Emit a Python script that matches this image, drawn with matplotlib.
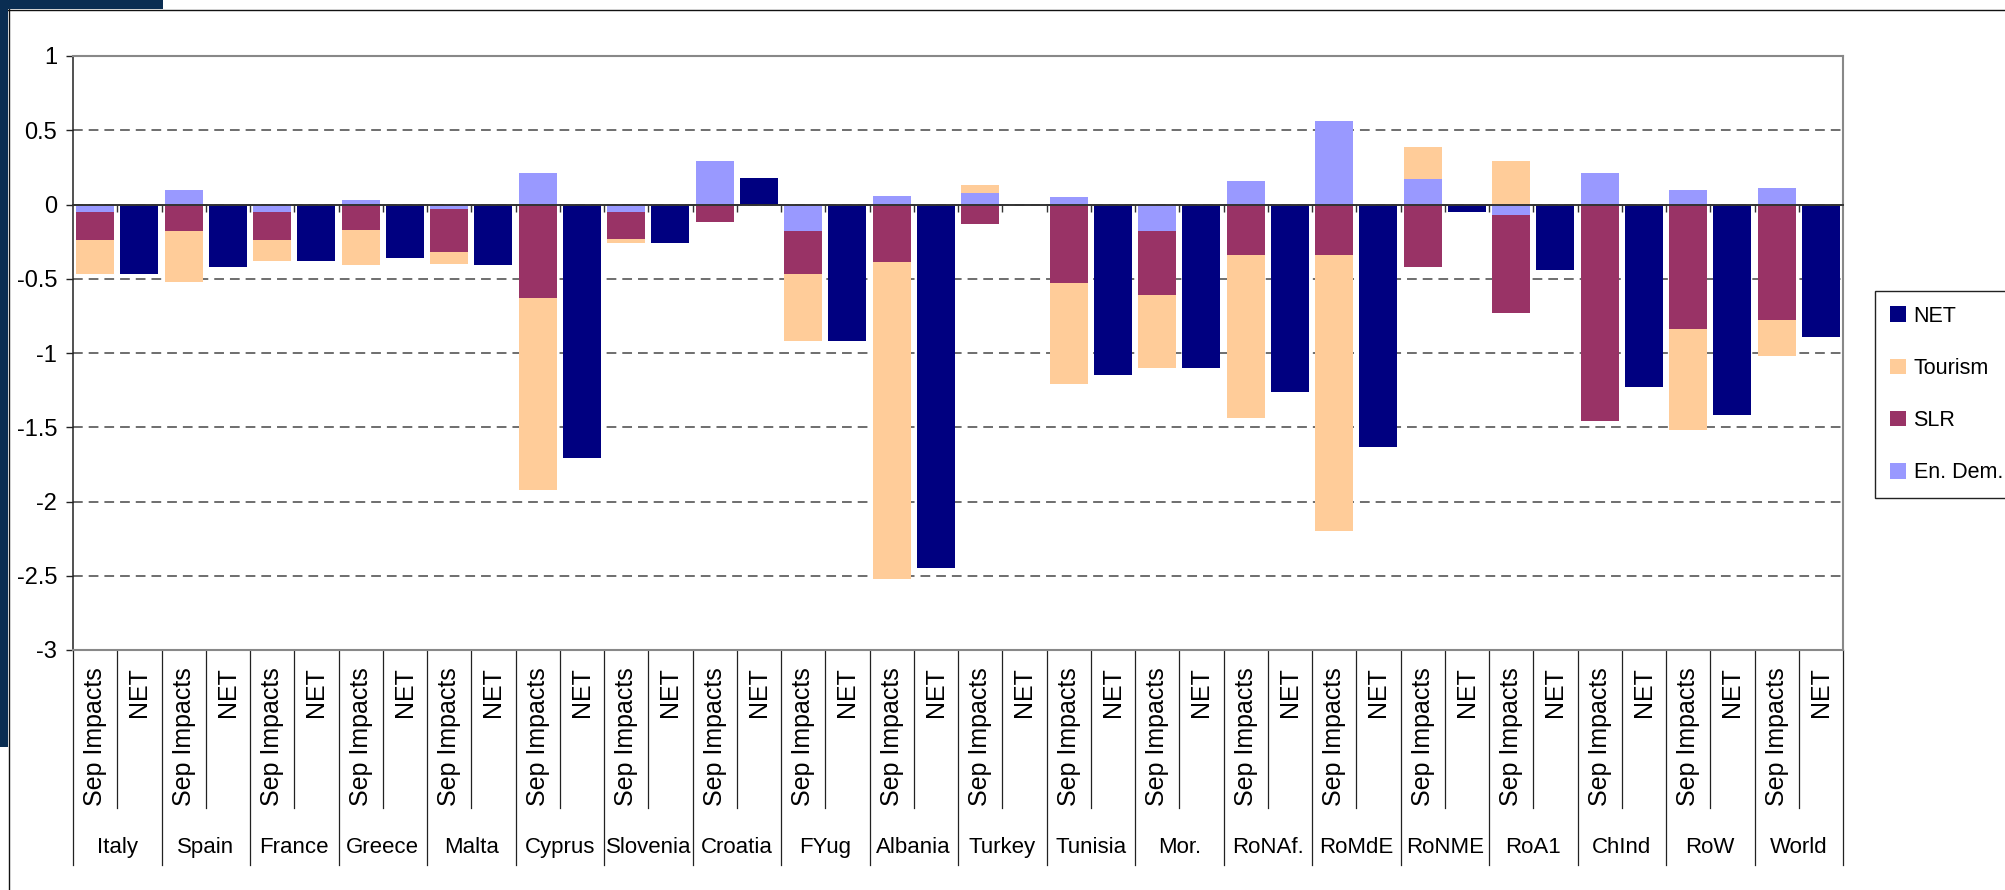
import matplotlib
matplotlib.use("Agg")
import matplotlib.pyplot as plt
from matplotlib.patches import Rectangle
from matplotlib.lines import Line2D
from matplotlib.ticker import FuncFormatter
import numpy as np

# ---- data -------------------------------------------------------------
regions = ["Italy", "Spain", "France", "Greece", "Malta", "Cyprus", "Slovenia",
           "Croatia", "FYug", "Albania", "Turkey", "Tunisia", "Mor.", "RoNAf.",
           "RoMdE", "RoNME", "RoA1", "ChInd", "RoW", "World"]
bar_kinds = ["Sep Impacts", "NET"]

en_dem = [-0.05, 0.10, -0.05, 0.03, -0.03, 0.21, -0.05, 0.29, -0.18, 0.06,
          0.08, 0.05, -0.18, 0.16, 0.56, 0.17, -0.07, 0.21, 0.10, 0.11]
slr = [-0.19, -0.18, -0.19, -0.17, -0.29, -0.63, -0.18, -0.12, -0.29, -0.39,
       -0.13, -0.53, -0.43, -0.34, -0.34, -0.42, -0.66, -1.46, -0.84, -0.78]
tourism = [-0.23, -0.34, -0.14, -0.24, -0.08, -1.29, -0.03, 0.0, -0.45, -2.13,
           0.05, -0.68, -0.49, -1.10, -1.86, 0.22, 0.29, 0.0, -0.68, -0.24]
net = [-0.47, -0.42, -0.38, -0.36, -0.41, -1.71, -0.26, 0.18, -0.92, -2.45,
       0.0, -1.15, -1.10, -1.26, -1.63, -0.05, -0.44, -1.23, -1.42, -0.89]

y_ticks = [1, 0.5, 0, -0.5, -1, -1.5, -2, -2.5, -3]

# ---- style ------------------------------------------------------------
C_NET = "#000080"
C_TOUR = "#FFCC99"
C_SLR = "#993366"
C_EN = "#9999FF"
NAVY = "#0A2D52"

W, H = 2005, 890
plt.rcParams["font.family"] = ["Liberation Sans", "DejaVu Sans"]
plt.rcParams["axes.unicode_minus"] = False
plt.rcParams["lines.scale_dashes"] = False

fig = plt.figure(figsize=(W / 100, H / 100), dpi=100)
fig.patch.set_facecolor("white")


def fx(px):
    return px / W


def fy(py):
    return 1 - py / H


AX_L, AX_R, AX_T, AX_B = 73, 1843, 56, 650
ax = fig.add_axes([fx(AX_L), fy(AX_B), fx(AX_R) - fx(AX_L), fy(AX_T) - fy(AX_B)])

n = len(regions)
sep_x = np.arange(n) * 2
net_x = sep_x + 1
bar_w = 0.86

# stacked components: positives and negatives stack separately from zero
pos_base = np.zeros(n)
neg_base = np.zeros(n)
containers = {}
for name, vals, color in [("En. Dem.", en_dem, C_EN), ("SLR", slr, C_SLR),
                          ("Tourism", tourism, C_TOUR)]:
    v = np.asarray(vals, dtype=float)
    bottom = np.where(v >= 0, pos_base, neg_base)
    containers[name] = ax.bar(sep_x, v, bar_w, bottom=bottom, color=color,
                              linewidth=0, zorder=2)
    pos_base += np.where(v > 0, v, 0)
    neg_base += np.where(v < 0, v, 0)

containers["NET"] = ax.bar(net_x, net, bar_w, color=C_NET, linewidth=0, zorder=2)

ax.set_xlim(-0.5, 2 * n - 0.5)
ax.set_ylim(-3, 1)

# category axis sits on the zero line
ax.spines["bottom"].set_position(("data", 0))
ax.spines["bottom"].set_color("#333333")
ax.spines["bottom"].set_linewidth(1.4)
ax.spines["bottom"].set_zorder(3)
ax.spines["left"].set_color("#222222")
ax.spines["left"].set_linewidth(1.1)
for s in ("top", "right"):
    ax.spines[s].set_color("#888888")
    ax.spines[s].set_linewidth(1.5)
ax.axhline(-3, color="#888888", lw=1.5, zorder=3, clip_on=False)

ax.set_xticks(np.arange(2 * n - 1) + 0.5)
ax.tick_params(axis="x", direction="out", length=5, width=1.0, color="#333333",
               labelbottom=False)

ax.set_yticks(y_ticks)
ax.yaxis.set_major_formatter(FuncFormatter(lambda v, p: "%g" % v))
ax.tick_params(axis="y", direction="out", length=5, width=1.0, color="#222222",
               labelsize=17, pad=6.5)

ax.set_axisbelow(True)
ax.yaxis.grid(True, color="#555555", linewidth=1.2, linestyle=(0, (7, 4.3)))

# two-level category labels under the plot area
tr = ax.get_xaxis_transform()
plot_h = AX_B - AX_T


def ay(py):
    return -(py - AX_B) / plot_h


for i, region in enumerate(regions):
    for j, kind in enumerate(bar_kinds):
        ax.text(2 * i + j, ay(667), kind, rotation=90, ha="center", va="top",
                fontsize=18, transform=tr, clip_on=False)
    ax.text(2 * i + 0.5, ay(853), region, ha="center", va="baseline",
            fontsize=16, transform=tr, clip_on=False)
    ax.plot([2 * i + 0.5] * 2, [ay(AX_B), ay(808)], color="#222222", lw=0.9,
            transform=tr, clip_on=False)
for k in range(n + 1):
    ax.plot([2 * k - 0.5] * 2, [ay(AX_B), ay(865)], color="#222222", lw=0.9,
            transform=tr, clip_on=False)

leg = ax.legend([containers["NET"], containers["Tourism"], containers["SLR"],
                 containers["En. Dem."]],
                ["NET", "Tourism", "SLR", "En. Dem."],
                loc="upper left", bbox_to_anchor=(fx(1875), fy(291)),
                bbox_transform=fig.transFigure, borderaxespad=0, fontsize=15.5,
                frameon=True, fancybox=False, edgecolor="#222222", framealpha=1,
                handlelength=0.74, handleheight=0.74, handletextpad=0.37,
                borderpad=0.68, labelspacing=1.45)
leg.get_frame().set_linewidth(1.0)

# page frame decoration
fig.add_artist(Rectangle((0, fy(9)), fx(163), 9 / H, transform=fig.transFigure,
                         facecolor=NAVY, edgecolor="none", zorder=5))
fig.add_artist(Rectangle((0, fy(747)), fx(8), 747 / H, transform=fig.transFigure,
                         facecolor=NAVY, edgecolor="none", zorder=5))
fig.add_artist(Line2D([fx(8), 1], [fy(9.5), fy(9.5)], transform=fig.transFigure,
                      color="#111111", lw=1.0, zorder=4))
fig.add_artist(Line2D([fx(8.5), fx(8.5)], [0, fy(9)], transform=fig.transFigure,
                      color="#111111", lw=1.0, zorder=4))

fig.savefig("out.png", dpi=100, facecolor="white")
